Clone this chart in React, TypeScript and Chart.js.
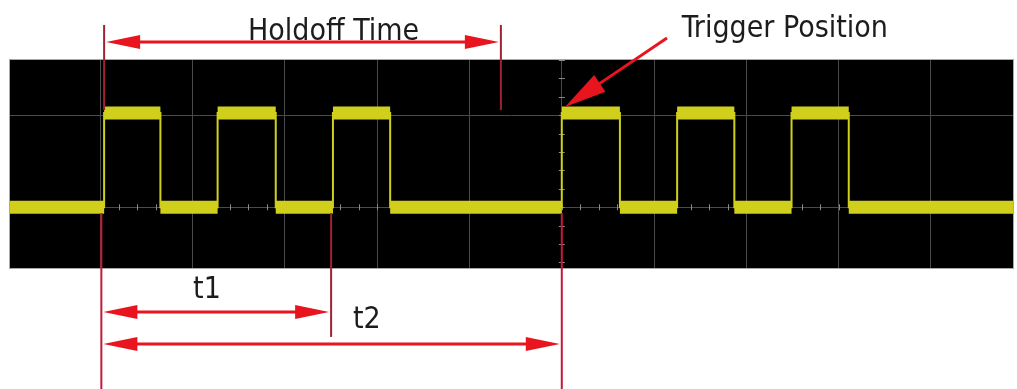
import React, { useEffect, useRef } from "react";
import { Chart, registerables } from "chart.js";

Chart.register(...registerables);

// ---- data (time in divisions, trigger at 0; level in divisions) ----
const riseTimes = [-4.96, -3.73, -2.48, 0.0, 1.25, 2.49];
const fallTimes = [-4.35, -3.1, -1.86, 0.63, 1.87, 3.11];
const lowLevel = 0.0;
const highLevel = 1.025;
const xRange = [-5.98, 4.89];
const yRange = [-0.66, 1.6];
const minorStep = 0.2;

// ---- annotation values (data units) ----
const holdoffSpan = [-4.96, -0.66];
const holdoffArrowY = 1.796;
const topLinesY = [1.981, 1.057];
const measureStart = -4.99;
const t1End = -2.5;
const t2End = 0.0;
const t1ArrowY = -1.138;
const t2ArrowY = -1.485;
const bottomLineTop = -0.062;
const t1LineBottom = -1.409;
const bottomLineBottom = -1.99;
const triggerTip = [0.035, 1.09];
const triggerTail = [1.14, 1.84];
const labelTexts = ["Holdoff Time", "Trigger Position", "t1", "t2"];
const labelX = [-3.4, 1.3, -3.996, -2.263];
const labelY = [1.818, 1.85, -0.985, -1.31];

const YELLOW = "#cfcf1c";
const RED = "#e8141e";
const LINE_RED = "#c21a38";
const DARK_RED = "#9e2233";

function buildTrace() {
  const pts: { x: number; y: number | null }[] = [{ x: xRange[0], y: lowLevel }];
  riseTimes.forEach((r, i) => {
    pts.push({ x: r, y: lowLevel }, { x: r, y: highLevel }, { x: fallTimes[i], y: highLevel }, { x: fallTimes[i], y: lowLevel });
  });
  pts.push({ x: xRange[1], y: lowLevel });
  return pts;
}

function buildBand() {
  const pts: { x: number; y: number | null }[] = [];
  let prev = xRange[0];
  riseTimes.forEach((r, i) => {
    pts.push({ x: prev, y: lowLevel }, { x: r, y: lowLevel }, { x: r, y: null });
    pts.push({ x: r, y: highLevel }, { x: fallTimes[i], y: highLevel }, { x: fallTimes[i], y: null });
    prev = fallTimes[i];
  });
  pts.push({ x: prev, y: lowLevel }, { x: xRange[1], y: lowLevel });
  return pts;
}

function arrowHead(ctx: CanvasRenderingContext2D, tx: number, ty: number, fx: number, fy: number, len: number, half: number) {
  const a = Math.atan2(ty - fy, tx - fx);
  const bx = tx - Math.cos(a) * len;
  const by = ty - Math.sin(a) * len;
  ctx.beginPath();
  ctx.moveTo(tx, ty);
  ctx.lineTo(bx + Math.sin(a) * half, by - Math.cos(a) * half);
  ctx.lineTo(bx - Math.sin(a) * half, by + Math.cos(a) * half);
  ctx.closePath();
  ctx.fill();
}

const scopePlugin = {
  id: "scope",
  beforeDraw(chart: any) {
    const { ctx, chartArea: a } = chart;
    ctx.save();
    ctx.fillStyle = "#000";
    ctx.fillRect(a.left, a.top, a.right - a.left, a.bottom - a.top);
    ctx.restore();
  },
  beforeDatasetsDraw(chart: any) {
    const { ctx, chartArea: a, scales } = chart;
    const xs = scales.x, ys = scales.y;
    const cx = xs.getPixelForValue(0);
    const cy = ys.getPixelForValue(0);
    ctx.save();
    ctx.strokeStyle = "#8a8a8a";
    ctx.lineWidth = 1;
    ctx.beginPath();
    for (let v = Math.ceil(xRange[0] / minorStep) * minorStep; v <= xRange[1]; v += minorStep) {
      const px = Math.round(xs.getPixelForValue(v)) + 0.5;
      ctx.moveTo(px, cy - 3);
      ctx.lineTo(px, cy + 3);
    }
    for (let v = Math.ceil(yRange[0] / minorStep) * minorStep; v <= yRange[1]; v += minorStep) {
      const py = Math.round(ys.getPixelForValue(v)) + 0.5;
      ctx.moveTo(cx - 3, py);
      ctx.lineTo(cx + 3, py);
    }
    ctx.stroke();
    ctx.restore();
  },
  afterDraw(chart: any) {
    const { ctx, chartArea: a, scales } = chart;
    const X = (v: number) => scales.x.getPixelForValue(v);
    const Y = (v: number) => scales.y.getPixelForValue(v);
    ctx.save();
    // screen border
    ctx.strokeStyle = "#a8a8a8";
    ctx.lineWidth = 1;
    ctx.strokeRect(a.left - 0.5, a.top - 0.5, a.right - a.left + 1, a.bottom - a.top + 1);

    // vertical marker lines
    ctx.lineWidth = 2;
    ctx.strokeStyle = DARK_RED;
    [holdoffSpan[0], holdoffSpan[1]].forEach((v) => {
      ctx.beginPath();
      ctx.moveTo(X(v), Y(topLinesY[0]));
      ctx.lineTo(X(v), Y(topLinesY[1]));
      ctx.stroke();
    });
    ctx.strokeStyle = LINE_RED;
    ctx.beginPath();
    ctx.moveTo(X(measureStart), Y(bottomLineTop));
    ctx.lineTo(X(measureStart), Y(bottomLineBottom));
    ctx.moveTo(X(t2End), Y(bottomLineTop));
    ctx.lineTo(X(t2End), Y(bottomLineBottom));
    ctx.stroke();
    ctx.strokeStyle = DARK_RED;
    ctx.beginPath();
    ctx.moveTo(X(t1End), Y(bottomLineTop));
    ctx.lineTo(X(t1End), Y(t1LineBottom));
    ctx.stroke();

    // double arrows
    const dbl = (x0: number, x1: number, yv: number) => {
      const y = Y(yv);
      const p0 = X(x0) + 2, p1 = X(x1) - 2;
      ctx.strokeStyle = RED;
      ctx.lineWidth = 3;
      ctx.beginPath();
      ctx.moveTo(p0 + 10, y);
      ctx.lineTo(p1 - 10, y);
      ctx.stroke();
      ctx.fillStyle = RED;
      arrowHead(ctx, p0, y, p1, y, 34, 7);
      arrowHead(ctx, p1, y, p0, y, 34, 7);
    };
    dbl(holdoffSpan[0], holdoffSpan[1], holdoffArrowY);
    dbl(measureStart, t1End, t1ArrowY);
    dbl(measureStart, t2End, t2ArrowY);

    // trigger arrow
    const tx = X(triggerTip[0]), ty = Y(triggerTip[1]);
    const fx = X(triggerTail[0]), fy = Y(triggerTail[1]);
    ctx.strokeStyle = RED;
    ctx.lineWidth = 3;
    ctx.beginPath();
    ctx.moveTo(fx, fy);
    ctx.lineTo(tx + (fx - tx) * 0.2, ty + (fy - ty) * 0.2);
    ctx.stroke();
    ctx.fillStyle = RED;
    arrowHead(ctx, tx, ty, fx, fy, 42, 10);

    // labels
    ctx.fillStyle = "#1c1c1c";
    ctx.font = '30px "DejaVu Sans Condensed", "DejaVu Sans", sans-serif';
    ctx.textBaseline = "alphabetic";
    ctx.textAlign = "left";
    labelTexts.forEach((t, i) => ctx.fillText(t, X(labelX[i]), Y(labelY[i])));
    ctx.restore();
  },
};

export default function App() {
  const ref = useRef<HTMLCanvasElement>(null);
  useEffect(() => {
    if (!ref.current) return;
    const chart = new Chart(ref.current, {
      type: "line",
      data: {
        datasets: [
          {
            data: buildBand() as any,
            borderColor: YELLOW,
            borderWidth: 13,
            borderCapStyle: "butt",
            pointRadius: 0,
            spanGaps: false,
            tension: 0,
          },
          {
            data: buildTrace() as any,
            borderColor: YELLOW,
            borderWidth: 2,
            pointRadius: 0,
            tension: 0,
          },
        ],
      },
      options: {
        animation: false,
        responsive: false,
        events: [],
        layout: { padding: { left: 10, right: 4, top: 60, bottom: 121 } },
        plugins: { legend: { display: false }, tooltip: { enabled: false } },
        scales: {
          x: {
            type: "linear",
            min: xRange[0],
            max: xRange[1],
            ticks: { display: false, stepSize: 1 },
            afterBuildTicks: (s: any) => {
              s.ticks = s.ticks.filter((t: any) => Math.abs(t.value - Math.round(t.value)) < 1e-6);
            },
            grid: { color: "#4a4a4a", drawTicks: false, lineWidth: 1 },
            border: { display: false },
          },
          y: {
            type: "linear",
            min: yRange[0],
            max: yRange[1],
            ticks: { display: false, stepSize: 1 },
            afterBuildTicks: (s: any) => {
              s.ticks = s.ticks.filter((t: any) => Math.abs(t.value - Math.round(t.value)) < 1e-6);
            },
            grid: { color: "#4a4a4a", drawTicks: false, lineWidth: 1 },
            border: { display: false },
          },
        },
      },
      plugins: [scopePlugin],
    });
    return () => chart.destroy();
  }, []);
  return (
    <div style={{ position: "fixed", left: 0, top: 0, width: 1017, height: 389, background: "#fff" }}>
      <canvas ref={ref} width={1017} height={389} />
    </div>
  );
}
